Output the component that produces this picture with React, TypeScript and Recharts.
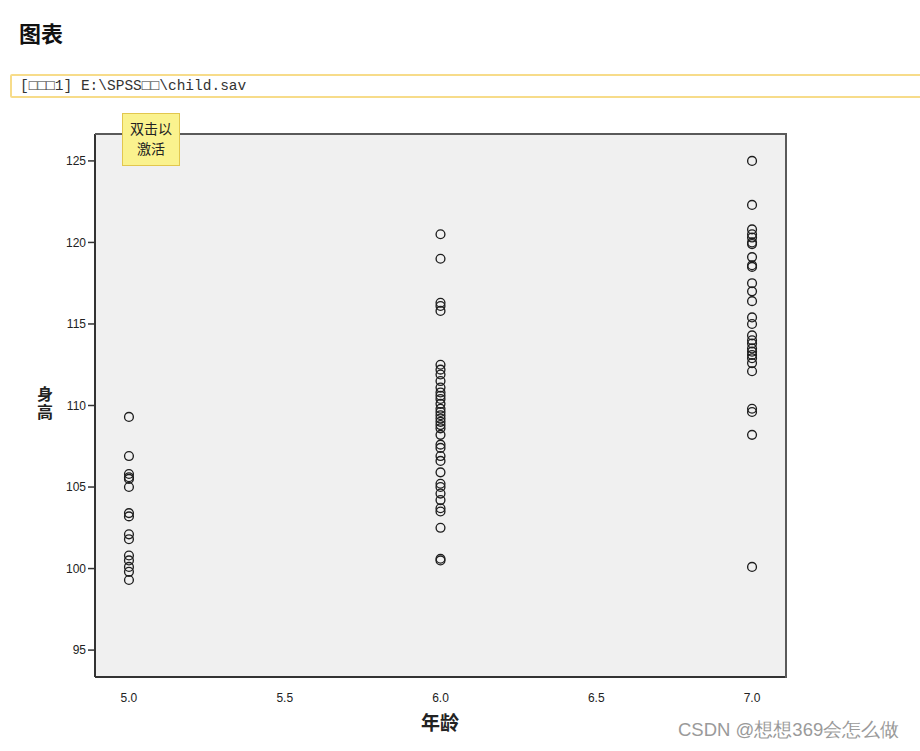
import React from "react";
import { ScatterChart, Scatter, XAxis, YAxis, CartesianGrid } from "recharts";

const ages = [5, 6, 7];
const heightsAge5 = [109.3, 106.9, 105.8, 105.6, 105.5, 105.0, 103.4, 103.2, 102.1, 101.8, 100.8, 100.5, 100.1, 99.8, 99.3];
const heightsAge6 = [
  120.5, 119.0, 116.3, 116.1, 115.8, 112.5, 112.2, 111.9, 111.5, 111.1, 110.8, 110.6, 110.4, 110.1,
  109.8, 109.6, 109.4, 109.2, 109.0, 108.8, 108.6, 108.2, 107.6, 107.4, 106.9, 106.6, 105.9, 105.2,
  105.0, 104.6, 104.2, 103.7, 103.5, 102.5, 100.6, 100.5,
];
const heightsAge7 = [
  125.0, 122.3, 120.8, 120.5, 120.3, 120.0, 119.9, 119.1, 118.6, 118.5, 117.5, 117.0, 116.4, 115.4,
  115.0, 114.3, 114.0, 113.8, 113.5, 113.3, 113.1, 112.9, 112.6, 112.1, 109.8, 109.6, 108.2, 100.1,
];
const xTicks = [5.0, 5.5, 6.0, 6.5, 7.0];
const yTicks = [95, 100, 105, 110, 115, 120, 125];

const groups = [heightsAge5, heightsAge6, heightsAge7];
const data = groups.flatMap((hs, i) => hs.map((h) => ({ age: ages[i], height: h })));

const Ring = (props: any) => {
  const { cx, cy } = props;
  if (cx == null || cy == null) return null;
  return <circle cx={cx} cy={cy} r={4.4} fill="none" stroke="#1e1e1e" strokeWidth={1.35} />;
};

const sans = "'Liberation Sans', Arial, sans-serif";
const cjk = "'Noto Sans CJK SC', sans-serif";

export default function App() {
  return (
    <div style={{ position: "absolute", left: 0, top: 0, width: 920, height: 751, background: "#fff", overflow: "hidden" }}>
      <div style={{ position: "absolute", left: 19, top: 17, fontFamily: cjk, fontWeight: 700, fontSize: 22, lineHeight: "30px", color: "#111" }}>
        图表
      </div>
      <div
        style={{
          position: "absolute",
          left: 10,
          top: 74,
          width: 920,
          height: 24,
          border: "2px solid #f7dc8a",
          borderRadius: 2,
          boxSizing: "border-box",
          background: "#fff",
        }}
      />
      <div
        style={{
          position: "absolute",
          left: 20,
          top: 77,
          fontFamily: "'Liberation Mono', 'DejaVu Sans Mono', monospace",
          fontSize: 14.5,
          lineHeight: "19px",
          color: "#333",
          whiteSpace: "pre",
        }}
      >
        [□□□1] E:\SPSS□□\child.sav
      </div>
      <div style={{ position: "absolute", left: 0, top: 0 }}>
        <ScatterChart width={920} height={751} margin={{ top: 134, right: 134, bottom: 46, left: 35 }}>
          <CartesianGrid fill="#f0f0f0" horizontal={false} vertical={false} stroke="none" />
          <XAxis
            type="number"
            dataKey="age"
            domain={[4.891, 7.109]}
            ticks={xTicks}
            tickFormatter={(v: number) => v.toFixed(1)}
            height={28}
            tickLine={false}
            tickMargin={10}
            allowDataOverflow
            axisLine={{ stroke: "#333", strokeWidth: 2 }}
            tick={{ fill: "#222", fontSize: 12, fontFamily: sans }}
          />
          <YAxis
            type="number"
            dataKey="height"
            domain={[93.35, 126.65]}
            ticks={yTicks}
            width={60}
            tickSize={7}
            tickMargin={2}
            allowDataOverflow
            axisLine={{ stroke: "#333", strokeWidth: 2 }}
            tickLine={{ stroke: "#333", strokeWidth: 1.5 }}
            tick={{ fill: "#222", fontSize: 12, fontFamily: sans }}
          />
          <Scatter data={data} shape={<Ring />} isAnimationActive={false} />
        </ScatterChart>
      </div>
      <div
        style={{
          position: "absolute",
          left: 95,
          top: 133,
          width: 692,
          height: 545,
          borderTop: "2px solid #5a5a5a",
          borderRight: "2px solid #5a5a5a",
          boxSizing: "border-box",
          pointerEvents: "none",
        }}
      />
      <div
        style={{
          position: "absolute",
          left: 122,
          top: 113,
          width: 58,
          height: 53,
          background: "#faf28e",
          border: "1px solid #e2c74e",
          boxSizing: "border-box",
          fontFamily: cjk,
          fontSize: 14,
          lineHeight: "20px",
          color: "#222",
          textAlign: "center",
          paddingTop: 4,
        }}
      >
        双击以
        <br />
        激活
      </div>
      <div
        style={{
          position: "absolute",
          left: 35,
          top: 386,
          fontFamily: cjk,
          fontWeight: 700,
          fontSize: 16,
          lineHeight: "20px",
          letterSpacing: 2,
          color: "#222",
          writingMode: "vertical-rl",
          textOrientation: "upright",
        }}
      >
        身高
      </div>
      <div style={{ position: "absolute", left: 421, top: 709, fontFamily: cjk, fontWeight: 700, fontSize: 19, lineHeight: "26px", color: "#222" }}>
        年龄
      </div>
      <div style={{ position: "absolute", left: 678, top: 717, fontFamily: sans, fontSize: 18.5, lineHeight: "26px", color: "#9a9a9a", whiteSpace: "nowrap" }}>
        CSDN @想想369会怎么做
      </div>
    </div>
  );
}
